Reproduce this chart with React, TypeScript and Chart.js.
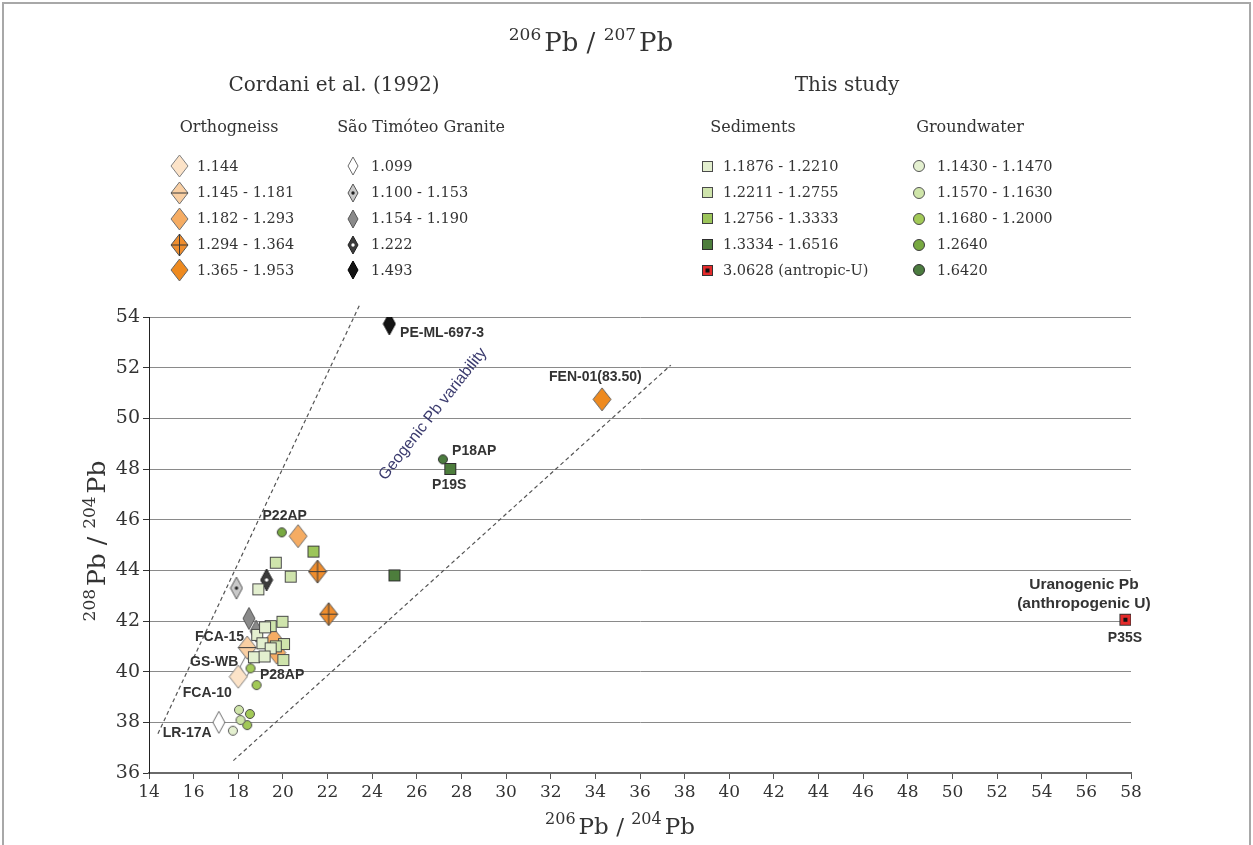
import React, { useEffect, useRef } from "react";
import { Chart, registerables } from "chart.js";
Chart.register(...registerables);

// ---------------- axes ----------------
const X_MIN = 14, X_MAX = 58, X_STEP = 2;
const Y_MIN = 36, Y_MAX = 54, Y_STEP = 2;

// ---------------- legend texts ----------------
const mainTitle = [{ t: "206", sup: true }, { t: "Pb" }, { t: " / " }, { t: "207", sup: true }, { t: "Pb" }];
const xTitle = [{ t: "206", sup: true }, { t: "Pb" }, { t: " / " }, { t: "204", sup: true }, { t: "Pb" }];
const yTitle = [{ t: "208", sup: true }, { t: "Pb" }, { t: " / " }, { t: "204", sup: true }, { t: "Pb" }];
const groupTitles = ["Cordani et al. (1992)", "This study"];
const columnTitles = ["Orthogneiss", "São Timóteo Granite", "Sediments", "Groundwater"];
const orthoLegend = ["1.144", "1.145 - 1.181", "1.182 - 1.293", "1.294 - 1.364", "1.365 - 1.953"];
const graniteLegend = ["1.099", "1.100 - 1.153", "1.154 - 1.190", "1.222", "1.493"];
const sedimentLegend = ["1.1876 - 1.2210", "1.2211 - 1.2755", "1.2756 - 1.3333", "1.3334 - 1.6516", "3.0628 (antropic-U)"];
const groundwaterLegend = ["1.1430 - 1.1470", "1.1570 - 1.1630", "1.1680 - 1.2000", "1.2640", "1.6420"];

// ---------------- data: Orthogneiss (Cordani et al. 1992) ----------------
const ortho1144 = [{ x: 18.0, y: 39.8 }];
const ortho1145_1181 = [{ x: 18.4, y: 40.95 }];
const ortho1182_1293 = [{ x: 20.68, y: 45.35 }, { x: 19.6, y: 41.25 }, { x: 19.72, y: 40.75 }];
const ortho1294_1364 = [{ x: 21.55, y: 43.95 }, { x: 22.05, y: 42.27 }];
const ortho1365_1953 = [{ x: 34.3, y: 50.75 }];

// ---------------- data: São Timóteo Granite ----------------
const gran1099 = [{ x: 17.13, y: 38.0 }, { x: 18.35, y: 40.2 }];
const gran1100_1153 = [{ x: 17.92, y: 43.3 }];
const gran1154_1190 = [{ x: 18.48, y: 42.1 }, { x: 18.8, y: 41.6 }];
const gran1222 = [{ x: 19.27, y: 43.62 }];
const gran1493 = [{ x: 24.77, y: 53.73 }];

// ---------------- data: Sediments (this study) ----------------
const sed1876_2210 = [
  { x: 18.9, y: 43.25 }, { x: 18.85, y: 41.45 }, { x: 19.08, y: 41.12 }, { x: 18.7, y: 40.57 },
  { x: 19.45, y: 40.92 }, { x: 19.18, y: 40.6 }, { x: 19.2, y: 41.75 },
];
const sed2211_2755 = [
  { x: 19.68, y: 44.3 }, { x: 20.35, y: 43.75 }, { x: 19.98, y: 41.97 }, { x: 19.45, y: 41.8 },
  { x: 20.05, y: 41.09 }, { x: 19.68, y: 41.0 }, { x: 20.02, y: 40.46 },
];
const sed2756_3333 = [{ x: 21.37, y: 44.74 }];
const sed3334_6516 = [{ x: 27.5, y: 48.0 }, { x: 25.0, y: 43.8 }];
const sedAnthropic = [{ x: 57.75, y: 42.05 }];

// ---------------- data: Groundwater (this study) ----------------
const gw1430_1470 = [{ x: 17.76, y: 37.67 }];
const gw1570_1630 = [{ x: 18.03, y: 38.49 }, { x: 18.1, y: 38.09 }];
const gw1680_2000 = [{ x: 18.52, y: 38.33 }, { x: 18.4, y: 37.89 }, { x: 18.55, y: 40.13 }, { x: 18.82, y: 39.47 }];
const gw2640 = [{ x: 19.95, y: 45.5 }];
const gw6420 = [{ x: 27.17, y: 48.38 }];

// ---------------- envelope lines ----------------
const envelopeLeft = [{ x: 14.4, y: 37.55 }, { x: 23.45, y: 54.5 }];
const envelopeRight = [{ x: 17.78, y: 36.49 }, { x: 37.38, y: 52.1 }];

// ---------------- annotations (data coordinates) ----------------
const sampleLabels = [
  { text: "PE-ML-697-3", x: 25.25, y: 53.37, align: "left" },
  { text: "FEN-01(83.50)", x: 34.0, y: 51.63, align: "center" },
  { text: "P18AP", x: 27.58, y: 48.72, align: "left" },
  { text: "P19S", x: 27.45, y: 47.37, align: "center" },
  { text: "P22AP", x: 20.08, y: 46.12, align: "center" },
  { text: "FCA-15", x: 18.26, y: 41.38, align: "right" },
  { text: "GS-WB", x: 18.0, y: 40.39, align: "right" },
  { text: "P28AP", x: 18.97, y: 39.87, align: "left" },
  { text: "FCA-10", x: 17.71, y: 39.17, align: "right" },
  { text: "LR-17A", x: 16.81, y: 37.57, align: "right" },
  { text: "P35S", x: 57.73, y: 41.32, align: "center" },
];
const uranogenicLabel = { lines: ["Uranogenic Pb", "(anthropogenic U)"], x: 55.89, y: [43.42, 42.7] };
const geogenicLabel = { text: "Geogenic Pb variability", x: 26.72, y: 50.17 };

// ---------------- marker factories ----------------
function mk(w: number, h: number, draw: (ctx: CanvasRenderingContext2D, w: number, h: number) => void) {
  const c = document.createElement("canvas");
  c.width = w;
  c.height = h;
  const ctx = c.getContext("2d")!;
  draw(ctx, w, h);
  return c;
}
function diamond(w: number, h: number, fill: string, stroke: string, deco?: string) {
  const W = w + 2, H = h + 2;
  return mk(W, H, (ctx) => {
    const cx = W / 2, cy = H / 2;
    ctx.beginPath();
    ctx.moveTo(cx, 1);
    ctx.lineTo(W - 1, cy);
    ctx.lineTo(cx, H - 1);
    ctx.lineTo(1, cy);
    ctx.closePath();
    ctx.fillStyle = fill;
    ctx.fill();
    ctx.lineWidth = 1;
    ctx.strokeStyle = stroke;
    ctx.stroke();
    ctx.strokeStyle = "#3a3a3a";
    if (deco === "h" || deco === "cross") {
      ctx.beginPath();
      ctx.moveTo(1, cy);
      ctx.lineTo(W - 1, cy);
      ctx.stroke();
    }
    if (deco === "cross") {
      ctx.beginPath();
      ctx.moveTo(cx, 1);
      ctx.lineTo(cx, H - 1);
      ctx.stroke();
    }
    if (deco === "dot" || deco === "wdot") {
      ctx.beginPath();
      ctx.arc(cx, cy, 1.7, 0, Math.PI * 2);
      ctx.fillStyle = deco === "dot" ? "#222" : "#fff";
      ctx.fill();
    }
  });
}
function square(s: number, fill: string, stroke: string, dot?: boolean) {
  const W = s + 2;
  return mk(W, W, (ctx) => {
    ctx.fillStyle = fill;
    ctx.fillRect(1, 1, s, s);
    ctx.lineWidth = 1;
    ctx.strokeStyle = stroke;
    ctx.strokeRect(1.5, 1.5, s - 1, s - 1);
    if (dot) {
      ctx.fillStyle = "#111";
      ctx.fillRect(W / 2 - 2, W / 2 - 2, 4, 4);
    }
  });
}
function circle(d: number, fill: string, stroke: string) {
  const W = d + 2;
  return mk(W, W, (ctx) => {
    ctx.beginPath();
    ctx.arc(W / 2, W / 2, d / 2 - 0.5, 0, Math.PI * 2);
    ctx.fillStyle = fill;
    ctx.fill();
    ctx.lineWidth = 1;
    ctx.strokeStyle = stroke;
    ctx.stroke();
  });
}

const ORTHO_STYLE = [
  { fill: "#fce3c8", stroke: "#808080", deco: "" },
  { fill: "#f9cfa3", stroke: "#707070", deco: "h" },
  { fill: "#f5ac63", stroke: "#707070", deco: "" },
  { fill: "#ef8d2d", stroke: "#555", deco: "cross" },
  { fill: "#ee8a1f", stroke: "#666", deco: "" },
];
const GRAN_STYLE = [
  { fill: "#ffffff", stroke: "#6a6a6a", deco: "" },
  { fill: "#c9c9c9", stroke: "#555", deco: "dot" },
  { fill: "#8a8a8a", stroke: "#555", deco: "" },
  { fill: "#3b3b3b", stroke: "#222", deco: "wdot" },
  { fill: "#141414", stroke: "#000", deco: "" },
];
const SED_STYLE = [
  { fill: "#e3efcf", stroke: "#4a4a4a", dot: false },
  { fill: "#cfe4ac", stroke: "#4a4a4a", dot: false },
  { fill: "#9cc55a", stroke: "#3e3e3e", dot: false },
  { fill: "#4d7d3c", stroke: "#2e2e2e", dot: false },
  { fill: "#e42b2b", stroke: "#333", dot: true },
];
const GW_STYLE = [
  { fill: "#e4f0d0", stroke: "#555" },
  { fill: "#cfe5a9", stroke: "#555" },
  { fill: "#a2c957", stroke: "#4a4a4a" },
  { fill: "#78a941", stroke: "#3e3e3e" },
  { fill: "#4c7c3f", stroke: "#2e2e2e" },
];

const SERIF = "'DejaVu Serif', serif";
const SANS = "'Liberation Sans', Arial, sans-serif";

type Part = { t: string; sup?: boolean };
function drawRich(ctx: CanvasRenderingContext2D, parts: Part[], cx: number, baseY: number, size: number, supSize: number, color: string) {
  const widths = parts.map((p) => {
    ctx.font = `${p.sup ? supSize : size}px ${SERIF}`;
    return ctx.measureText(p.t).width + (p.sup ? 3 : 0);
  });
  const total = widths.reduce((a, b) => a + b, 0);
  let x = cx - total / 2;
  ctx.fillStyle = color;
  ctx.textAlign = "left";
  ctx.textBaseline = "alphabetic";
  parts.forEach((p, i) => {
    ctx.font = `${p.sup ? supSize : size}px ${SERIF}`;
    ctx.fillText(p.t, x, p.sup ? baseY - size * 0.42 : baseY);
    x += widths[i];
  });
}

export default function App() {
  const ref = useRef<HTMLCanvasElement>(null);
  useEffect(() => {
    const canvas = ref.current!;
    const orthoPlot = ORTHO_STYLE.map((s) => diamond(18, 23, s.fill, s.stroke, s.deco));
    const orthoLeg = ORTHO_STYLE.map((s) => diamond(17, 22, s.fill, s.stroke, s.deco));
    const granPlot = GRAN_STYLE.map((s) => diamond(12, 22, s.fill, s.stroke, s.deco));
    const granLeg = GRAN_STYLE.map((s) => diamond(10, 18, s.fill, s.stroke, s.deco));
    const sedPlot = SED_STYLE.map((s) => square(12, s.fill, s.stroke, s.dot));
    const sedLeg = SED_STYLE.map((s) => square(11, s.fill, s.stroke, s.dot));
    const gwPlot = GW_STYLE.map((s) => circle(10, s.fill, s.stroke));
    const gwLeg = GW_STYLE.map((s) => circle(12, s.fill, s.stroke));

    const orthoData = [ortho1144, ortho1145_1181, ortho1182_1293, ortho1294_1364, ortho1365_1953];
    const granData = [gran1099, gran1100_1153, gran1154_1190, gran1222, gran1493];
    const sedData = [sed1876_2210, sed2211_2755, sed2756_3333, sed3334_6516, sedAnthropic];
    const gwData = [gw1430_1470, gw1570_1630, gw1680_2000, gw2640, gw6420];

    const pts = (label: string, data: any[], style: HTMLCanvasElement, order: number) => ({
      label,
      data,
      pointStyle: style,
      pointRadius: 6,
      pointHoverRadius: 6,
      order,
      showLine: false,
    });

    const datasets: any[] = [];
    sedData.forEach((d, i) => datasets.push(pts("Sediments " + sedimentLegend[i], d, sedPlot[i], 0)));
    gwData.forEach((d, i) => datasets.push(pts("Groundwater " + groundwaterLegend[i], d, gwPlot[i], 1)));
    orthoData.forEach((d, i) => datasets.push(pts("Orthogneiss " + orthoLegend[i], d, orthoPlot[i], 2)));
    granData.forEach((d, i) => datasets.push(pts("Granite " + graniteLegend[i], d, granPlot[i], 3)));
    [envelopeLeft, envelopeRight].forEach((d, i) =>
      datasets.push({
        label: "envelope" + i,
        data: d,
        showLine: true,
        borderColor: "#555",
        borderWidth: 1.2,
        borderDash: [4, 3],
        pointRadius: 0,
        fill: false,
        order: 5,
        clip: false,
      })
    );

    const decor = {
      id: "decor",
      beforeDraw(chart: any) {
        const ctx = chart.ctx;
        ctx.save();
        ctx.fillStyle = "#fff";
        ctx.fillRect(0, 0, chart.width, chart.height);
        ctx.restore();
      },
      afterDatasetsDraw(chart: any) {
        const ctx = chart.ctx;
        const xs = chart.scales.x, ys = chart.scales.y;
        ctx.save();
        ctx.fillStyle = "#333";
        ctx.textBaseline = "middle";
        ctx.font = `bold 14px ${SANS}`;
        sampleLabels.forEach((l) => {
          ctx.textAlign = l.align;
          ctx.fillText(l.text, xs.getPixelForValue(l.x), ys.getPixelForValue(l.y));
        });
        ctx.font = `bold 15.5px ${SANS}`;
        ctx.textAlign = "center";
        uranogenicLabel.lines.forEach((t, i) => {
          ctx.fillText(t, xs.getPixelForValue(uranogenicLabel.x), ys.getPixelForValue(uranogenicLabel.y[i]));
        });
        // rotated geogenic text
        ctx.translate(xs.getPixelForValue(geogenicLabel.x), ys.getPixelForValue(geogenicLabel.y));
        ctx.rotate((-51.6 * Math.PI) / 180);
        ctx.font = `16px ${SANS}`;
        ctx.fillStyle = "#3b3b6e";
        ctx.fillText(geogenicLabel.text, 0, 0);
        ctx.restore();
      },
      afterDraw(chart: any) {
        const ctx = chart.ctx;
        ctx.save();
        // frame
        ctx.strokeStyle = "#a8a8a8";
        ctx.lineWidth = 2;
        ctx.strokeRect(3, 3, 1247, 860);
        // main title
        drawRich(ctx, mainTitle, 591, 51, 26, 17, "#333");
        // group titles
        ctx.fillStyle = "#333";
        ctx.textAlign = "center";
        ctx.textBaseline = "middle";
        ctx.font = `20px ${SERIF}`;
        ctx.fillText(groupTitles[0], 334, 86);
        ctx.fillText(groupTitles[1], 847, 86);
        ctx.font = `16px ${SERIF}`;
        const colCenters = [229, 421, 753, 970];
        columnTitles.forEach((t, i) => ctx.fillText(t, colCenters[i], 128));
        // legend rows
        const rows = [166, 192.5, 218.5, 244.5, 270];
        const cols = [
          { mx: 179, tx: 197, labels: orthoLegend, marks: orthoLeg },
          { mx: 353, tx: 371, labels: graniteLegend, marks: granLeg },
          { mx: 707, tx: 723, labels: sedimentLegend, marks: sedLeg },
          { mx: 919, tx: 937, labels: groundwaterLegend, marks: gwLeg },
        ];
        ctx.font = `14.5px ${SERIF}`;
        ctx.textAlign = "left";
        cols.forEach((c) => {
          c.labels.forEach((lab, i) => {
            const m = c.marks[i];
            ctx.drawImage(m, Math.round(c.mx - m.width / 2), Math.round(rows[i] - m.height / 2));
            ctx.fillStyle = "#333";
            ctx.fillText(lab, c.tx, rows[i] + 1);
          });
        });
        // x-axis title
        drawRich(ctx, xTitle, 620, 834, 23, 16, "#333");
        // y-axis title
        ctx.translate(96, 541);
        ctx.rotate(-Math.PI / 2);
        drawRich(ctx, yTitle, 0, 9, 25, 17, "#333");
        ctx.restore();
      },
    };

    const chart = new Chart(canvas, {
      type: "scatter",
      data: { datasets },
      options: {
        responsive: false,
        animation: false,
        devicePixelRatio: 1,
        events: [],
        layout: { padding: { left: 0, right: 122, top: 317, bottom: 0 } },
        plugins: { legend: { display: false }, tooltip: { enabled: false }, title: { display: false } },
        scales: {
          x: {
            type: "linear",
            min: X_MIN,
            max: X_MAX,
            afterFit: (s: any) => {
              s.height = 72;
            },
            ticks: { stepSize: X_STEP, color: "#333", font: { family: SERIF, size: 17 }, padding: 3, maxRotation: 0 },
            grid: { drawOnChartArea: false, drawTicks: true, tickLength: 6, color: "#555" },
            border: { display: true, color: "#6a6a6a", width: 2 },
          },
          y: {
            type: "linear",
            min: Y_MIN,
            max: Y_MAX,
            afterFit: (s: any) => {
              s.width = 149;
            },
            ticks: { stepSize: Y_STEP, color: "#333", font: { family: SERIF, size: 19 }, padding: 3 },
            grid: {
              drawOnChartArea: true,
              drawTicks: true,
              tickLength: 6,
              color: "#8a8a8a",
              lineWidth: 1,
              borderDash: [1, 2],
              tickBorderDash: [],
              tickColor: "#333",
            },
            border: { display: true, color: "#222", width: 1 },
          },
        },
      },
      plugins: [decor],
    } as any);
    return () => chart.destroy();
  }, []);
  return (
    <div style={{ position: "absolute", left: 0, top: 0, width: 1253, height: 845 }}>
      <canvas ref={ref} width={1253} height={845} style={{ display: "block", width: 1253, height: 845 }} />
    </div>
  );
}
